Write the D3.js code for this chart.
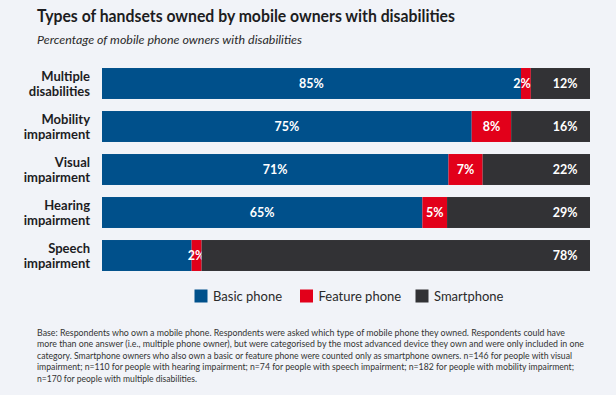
<!DOCTYPE html>
<html>
<head>
<meta charset="utf-8">
<script src="https://cdn.jsdelivr.net/npm/d3@7"></script>
<style>
  body { margin: 0; background: #f1f3f8; }
  svg { display: block; font-family: Lato, sans-serif; }
</style>
</head>
<body>
<div class="graph"></div>
<script>
// chart data
var categories = [
  ["Multiple", "disabilities"],
  ["Mobility", "impairment"],
  ["Visual", "impairment"],
  ["Hearing", "impairment"],
  ["Speech", "impairment"]
];
var basic = [85, 75, 71, 65, 18];
var feature = [2, 8, 7, 5, 2];
var smart = [12, 16, 22, 29, 78];
// the source leaves the speech basic-phone value unlabelled
var basicLabels = ["85%", "75%", "71%", "65%", ""];
var seriesNames = ["Basic phone", "Feature phone", "Smartphone"];
var colors = ["#00508b", "#e2001a", "#323235"];

var footnote = [
  "Base: Respondents who own a mobile phone. Respondents were asked which type of mobile phone they owned. Respondents could have",
  "more than one answer (i.e., multiple phone owner), but were categorised by the most advanced device they own and were only included in one",
  "category. Smartphone owners who also own a basic or feature phone were counted only as smartphone owners. n=146 for people with visual",
  "impairment; n=110 for people with hearing impairment; n=74 for people with speech impairment; n=182 for people with mobility impairment;",
  "n=170 for people with multiple disabilities."
];
// widths of the footnote lines in the source
var footWidths = [528, 547, 535, 537, 160];

var W = 616, H = 395;
var svg = d3.select(".graph").append("svg")
    .attr("width", W)
    .attr("height", H);

// title + subtitle
svg.append("text")
    .attr("x", 37).attr("y", 22)
    .attr("font-size", 16.5).attr("font-weight", 700)
    .attr("fill", "#1d1d1f")
    .attr("textLength", 418).attr("lengthAdjust", "spacingAndGlyphs")
    .text("Types of handsets owned by mobile owners with disabilities");
svg.append("text")
    .attr("x", 37).attr("y", 43.5)
    .attr("font-size", 12).attr("font-style", "italic")
    .attr("fill", "#2a2a2a")
    .attr("textLength", 265).attr("lengthAdjust", "spacingAndGlyphs")
    .text("Percentage of mobile phone owners with disabilities");

// scales
var rows = categories.map(function(c, i) {
  var total = basic[i] + feature[i] + smart[i];
  return {i: i, label: c, vals: [basic[i], feature[i], smart[i]], total: total};
});

var x = d3.scaleLinear().domain([0, 1]).range([102, 590]);
var y = d3.scaleBand().domain(d3.range(categories.length))
    .range([62, 277]).paddingInner(0.28).paddingOuter(0.14);

var g = svg.append("g");

rows.forEach(function(r) {
  var acc = 0;
  var row = g.append("g");
  r.vals.forEach(function(v, k) {
    var x0 = x(acc / r.total), x1 = x((acc + v) / r.total);
    row.append("rect")
        .attr("x", x0).attr("y", y(r.i))
        .attr("width", x1 - x0).attr("height", y.bandwidth())
        .attr("fill", colors[k]);
    var txt = k === 0 ? basicLabels[r.i] : v + "%";
    if (txt) {
      // thin red segments: label is nudged left like the source
      var lx = k === 2 ? x(1) - 12.5 : (x0 + x1) / 2;
      if (k === 1 && x1 - x0 < 12 && x0 > 400) lx -= 4;
      row.append("text")
          .attr("x", lx)
          .attr("y", y(r.i) + y.bandwidth() / 2)
          .attr("dy", "0.36em")
          .attr("text-anchor", k === 2 ? "end" : "middle")
          .attr("font-size", 12.5).attr("font-weight", 700)
          .attr("fill", "#fff")
          .text(txt);
    }
    acc += v;
  });

  // category label, two lines
  var cy = y(r.i) + y.bandwidth() / 2;
  var lab = g.append("text")
      .attr("text-anchor", "end")
      .attr("font-size", 13).attr("font-weight", 700)
      .attr("fill", "#1d1d1f");
  lab.append("tspan").attr("x", 90).attr("y", cy - 2.5).text(r.label[0]);
  lab.append("tspan").attr("x", 90).attr("y", cy + 12).text(r.label[1]);
});

// legend
var legendX = [194.5, 300, 415.5];
var legend = svg.append("g");
seriesNames.forEach(function(name, k) {
  legend.append("rect")
      .attr("x", legendX[k]).attr("y", 289.5)
      .attr("width", 13).attr("height", 13)
      .attr("fill", colors[k]);
  legend.append("text")
      .attr("x", legendX[k] + 18.5).attr("y", 301)
      .attr("font-size", 13).attr("fill", "#2a2a2a")
      .text(name);
});

// footnote
svg.append("g").selectAll("text")
    .data(footnote)
    .enter().append("text")
    .attr("x", 37)
    .attr("y", function(d, i) { return 335.5 + i * 11.5; })
    .attr("font-size", 9)
    .attr("fill", "#333")
    .attr("textLength", function(d, i) { return footWidths[i]; })
    .attr("lengthAdjust", "spacingAndGlyphs")
    .text(function(d) { return d; });
</script>
</body>
</html>
